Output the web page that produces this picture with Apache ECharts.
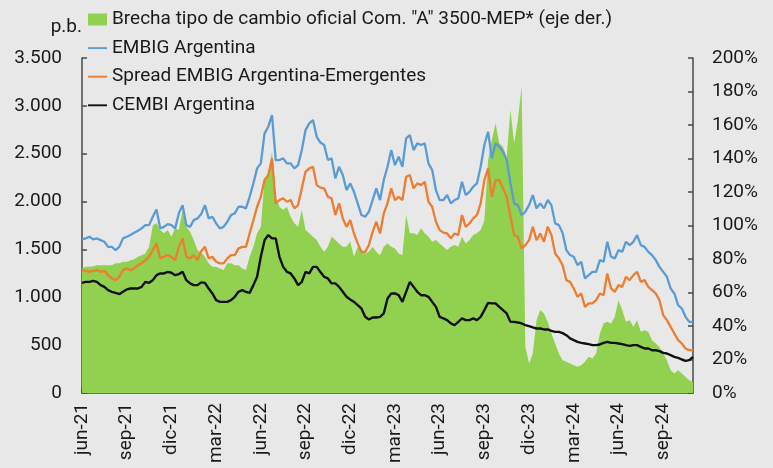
<!DOCTYPE html>
<html>
<head>
<meta charset="utf-8">
<script src="https://cdn.jsdelivr.net/npm/echarts@6/dist/echarts.min.js"></script>
<style>
  html, body { margin: 0; padding: 0; background: #e8e8e8; }
  #chart { width: 773px; height: 468px; }
</style>
</head>
<body>
<div id="chart"></div>
<script>
// eje x: una observación por semana, etiqueta cada trimestre
const tickLabels = ['jun-21', 'sep-21', 'dic-21', 'mar-22', 'jun-22', 'sep-22', 'dic-22',
  'mar-23', 'jun-23', 'sep-23', 'dic-23', 'mar-24', 'jun-24', 'sep-24'];

// EMBIG Argentina (p.b.)
const embig = [1605, 1615, 1632, 1605, 1615, 1597, 1580, 1527, 1527, 1493,
  1527, 1615, 1632, 1650, 1674, 1695, 1720, 1754, 1754, 1841,
  1918, 1720, 1736, 1765, 1754, 1720, 1877, 1963, 1754, 1736,
  1806, 1824, 1869, 1963, 1824, 1841, 1772, 1720, 1736, 1789,
  1859, 1877, 1946, 1946, 1929, 2050, 2190, 2347, 2399, 2713,
  2782, 2904, 2434, 2434, 2451, 2399, 2399, 2347, 2381, 2538,
  2747, 2817, 2852, 2677, 2617, 2591, 2434, 2451, 2242, 2364,
  2277, 2120, 2190, 2102, 1981, 1859, 1841, 1893, 2016, 2138,
  2016, 2225, 2364, 2538, 2381, 2468, 2364, 2661, 2695, 2538,
  2608, 2591, 2608, 2399, 2329, 2120, 2016, 2016, 2068, 1981,
  2016, 2033, 2207, 2068, 2102, 2155, 2190, 2364, 2591, 2730,
  2451, 2608, 2573, 2520, 2434, 2190, 1981, 1963, 1859, 1893,
  1963, 2068, 1929, 1981, 1929, 2016, 1963, 1772, 1754, 1671,
  1493, 1441, 1423, 1336, 1371, 1197, 1231, 1266, 1266, 1388,
  1371, 1580, 1423, 1406, 1493, 1475, 1580, 1545, 1580, 1650,
  1545, 1527, 1475, 1441, 1388, 1318, 1266, 1214, 1092, 1040,
  918, 883, 796, 743, 743];

// Spread EMBIG Argentina-Emergentes (p.b.)
const spread = [1284, 1276, 1266, 1276, 1284, 1266, 1276, 1231, 1197, 1179,
  1214, 1284, 1302, 1284, 1302, 1336, 1354, 1388, 1423, 1493,
  1563, 1406, 1423, 1441, 1423, 1388, 1527, 1615, 1423, 1406,
  1441, 1388, 1482, 1527, 1406, 1423, 1371, 1354, 1354, 1406,
  1441, 1441, 1511, 1527, 1527, 1667, 1806, 1946, 2050, 2225,
  2277, 2451, 1981, 2016, 2033, 1998, 2016, 1929, 1963, 2138,
  2311, 2347, 2364, 2172, 2146, 2138, 2050, 2033, 1859, 1981,
  1824, 1736, 1806, 1667, 1563, 1475, 1475, 1545, 1684, 1789,
  1667, 1877, 1981, 2138, 2016, 2050, 2016, 2259, 2277, 2138,
  2190, 2172, 2207, 1998, 1946, 1789, 1702, 1676, 1667, 1615,
  1667, 1650, 1859, 1736, 1772, 1824, 1859, 1981, 2225, 2347,
  2050, 2225, 2225, 2138, 2050, 1841, 1650, 1632, 1511, 1545,
  1597, 1736, 1597, 1667, 1580, 1736, 1650, 1458, 1406, 1336,
  1179, 1161, 1092, 1005, 1040, 900, 936, 936, 970, 1040,
  1022, 1249, 1092, 1057, 1127, 1109, 1214, 1179, 1231, 1266,
  1161, 1179, 1109, 1075, 1040, 970, 813, 761, 691, 622,
  552, 517, 465, 447, 447];

// CEMBI Argentina (p.b.)
const cembi = [1151, 1161, 1161, 1172, 1161, 1127, 1109, 1075, 1057, 1046,
  1033, 1057, 1082, 1092, 1092, 1092, 1109, 1161, 1151, 1179,
  1231, 1249, 1249, 1266, 1256, 1231, 1242, 1266, 1179, 1145,
  1127, 1127, 1156, 1151, 1092, 1040, 970, 952, 952, 952,
  970, 1005, 1057, 1075, 1057, 1046, 1127, 1214, 1423, 1597,
  1650, 1615, 1615, 1423, 1318, 1266, 1249, 1197, 1127, 1161,
  1266, 1249, 1318, 1318, 1263, 1214, 1197, 1145, 1145, 1109,
  1057, 1005, 977, 952, 918, 883, 796, 768, 789, 789,
  796, 831, 988, 1040, 1040, 1022, 952, 1057, 1161, 1109,
  1057, 1022, 1022, 1005, 952, 900, 796, 779, 761, 727,
  709, 743, 779, 761, 761, 779, 761, 796, 866, 942,
  936, 936, 900, 866, 831, 743, 743, 737, 727, 709,
  698, 685, 674, 674, 664, 664, 649, 639, 639, 625,
  604, 570, 552, 534, 524, 517, 510, 500, 500, 507,
  524, 534, 524, 524, 517, 510, 500, 492, 500, 500,
  482, 465, 465, 447, 447, 437, 419, 413, 395, 377,
  367, 350, 336, 343, 377];

// Brecha cambiaria oficial vs MEP (%), eje derecho
const brecha = [74.4, 75.3, 75.3, 75.7, 76.3, 76.3, 76.3, 76.3, 76.3, 77.4,
  77.4, 78.3, 78.3, 79.3, 79.8, 81.3, 82.3, 83.3, 87.3, 100.2,
  101.3, 97.3, 95.3, 97.3, 93.3, 98.3, 97.3, 109.2, 99.2, 96.2,
  91.3, 85.3, 83.8, 81.3, 77.4, 75.3, 75.3, 74.4, 73.4, 77.4,
  77.4, 76.3, 76.3, 74.4, 73.4, 81.3, 87.3, 95.3, 99.2, 127.1,
  131.1, 144.0, 117.2, 111.2, 109.2, 111.2, 105.2, 101.3, 99.2, 109.2,
  97.3, 95.3, 93.3, 91.3, 87.3, 84.3, 87.3, 93.3, 91.3, 89.3,
  87.3, 87.3, 90.3, 81.3, 87.3, 85.3, 83.3, 84.3, 87.3, 84.3,
  82.3, 87.3, 89.3, 87.3, 86.3, 83.3, 82.3, 106.2, 95.3, 95.3,
  94.3, 98.3, 95.3, 93.3, 90.3, 91.3, 89.3, 87.3, 85.3, 87.3,
  88.3, 87.3, 93.3, 89.3, 91.3, 94.3, 95.3, 97.3, 103.2, 139.1,
  151.0, 161.0, 149.1, 147.0, 141.0, 168.9, 149.1, 163.0, 182.9, 27.5,
  17.6, 23.6, 43.5, 49.5, 47.5, 42.5, 35.5, 29.6, 23.6, 19.6,
  18.6, 17.6, 16.6, 15.6, 16.6, 18.6, 21.6, 20.6, 23.6, 35.5,
  41.5, 42.5, 41.5, 45.5, 55.4, 49.5, 42.5, 43.5, 39.5, 43.5,
  36.5, 37.5, 36.5, 31.5, 29.6, 27.5, 23.6, 19.6, 13.6, 11.6,
  13.6, 11.6, 9.6, 7.6, 6.6];

const weeksPerTick = 12;
const categories = embig.map((_, i) => i % weeksPerTick === 0 ? tickLabels[i / weeksPerTick] : 's' + i);
const isTick = (idx) => idx % weeksPerTick === 0;

const FONT = 'Roboto';
const TXT = '#1a1a1a';
const AXIS = '#4a4a4a';
// icono de leyenda para las líneas: trazo horizontal fino
const LINE_ICON = 'path://M0 0H20V2H0Z';

const chart = echarts.init(document.getElementById('chart'));
chart.setOption({
  backgroundColor: '#e8e8e8',
  animation: false,
  textStyle: { fontFamily: FONT },
  grid: { left: 82, right: 80, top: 58, bottom: 75 },
  legend: {
    orient: 'vertical',
    left: 88,
    top: 10,
    padding: 0,
    itemGap: 9.6,
    itemWidth: 19,
    itemHeight: 12,
    symbolKeepAspect: true,
    textStyle: { fontFamily: FONT, fontSize: 19, color: TXT },
    data: [
      { name: 'Brecha tipo de cambio oficial Com. "A" 3500-MEP* (eje der.)', icon: 'rect' },
      { name: 'EMBIG Argentina', icon: LINE_ICON },
      { name: 'Spread EMBIG Argentina-Emergentes', icon: LINE_ICON },
      { name: 'CEMBI Argentina', icon: LINE_ICON }
    ]
  },
  xAxis: {
    type: 'category',
    data: categories,
    boundaryGap: false,
    axisLine: { lineStyle: { color: AXIS, width: 1.5 } },
    axisTick: { inside: true, length: 5, interval: isTick, lineStyle: { color: AXIS, width: 1.5 } },
    axisLabel: {
      interval: isTick,
      rotate: 90,
      margin: 10,
      fontFamily: FONT,
      fontSize: 19,
      color: TXT
    },
    splitLine: { show: false }
  },
  yAxis: [
    {
      type: 'value',
      min: 0,
      max: 3500,
      interval: 500,
      name: 'p.b.',
      nameLocation: 'end',
      nameGap: 21,
      nameTextStyle: { fontFamily: FONT, fontSize: 19, color: TXT, align: 'right' },
      axisLine: { show: true, lineStyle: { color: AXIS, width: 1.5 } },
      axisTick: { show: true, inside: true, length: 5, lineStyle: { color: AXIS, width: 1.5 } },
      axisLabel: {
        margin: 20,
        fontFamily: FONT,
        fontSize: 19,
        color: TXT,
        formatter: (v) => String(v).replace(/\B(?=(\d{3})+(?!\d))/g, '.')
      },
      splitLine: { show: false }
    },
    {
      type: 'value',
      min: 0,
      max: 200,
      interval: 20,
      position: 'right',
      axisLine: { show: true, lineStyle: { color: AXIS, width: 1.5 } },
      axisTick: { show: true, inside: true, length: 5, lineStyle: { color: AXIS, width: 1.5 } },
      axisLabel: { margin: 19, fontFamily: FONT, fontSize: 19, color: TXT, formatter: '{value}%' },
      splitLine: { show: false }
    }
  ],
  series: [
    {
      name: 'Brecha tipo de cambio oficial Com. "A" 3500-MEP* (eje der.)',
      type: 'line',
      yAxisIndex: 1,
      data: brecha,
      symbol: 'none',
      lineStyle: { width: 0 },
      itemStyle: { color: '#92d050' },
      areaStyle: { color: '#92d050', opacity: 1 }
    },
    {
      name: 'EMBIG Argentina',
      type: 'line',
      data: embig,
      symbol: 'none',
      itemStyle: { color: '#5b9bd5' },
      lineStyle: { color: '#5b9bd5', width: 2.3 }
    },
    {
      name: 'Spread EMBIG Argentina-Emergentes',
      type: 'line',
      data: spread,
      symbol: 'none',
      itemStyle: { color: '#ed7d31' },
      lineStyle: { color: '#ed7d31', width: 2.3 }
    },
    {
      name: 'CEMBI Argentina',
      type: 'line',
      data: cembi,
      symbol: 'none',
      itemStyle: { color: '#111111' },
      lineStyle: { color: '#111111', width: 2.4 }
    }
  ]
});
</script>
</body>
</html>
